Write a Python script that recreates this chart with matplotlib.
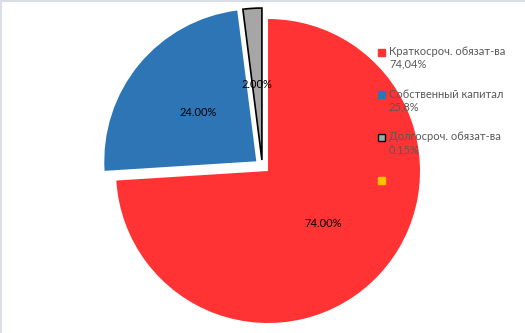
import matplotlib.pyplot as plt
from matplotlib.patches import Rectangle

plt.rcParams['font.family'] = ['Lato', 'DejaVu Sans']

# values shown on the slices and in the legend
slice_values = [74, 24, 2]
legend_labels = ['Краткосроч. обязат-ва\n74,04%', 'Собственный капитал\n25,8%',
                 'Долгосроч. обязат-ва\n0,15%', '']
colors = ['#FF3333', '#2E75B6', '#A6A6A6']
legend_colors = ['#FF3333', '#2E75B6', '#A6A6A6', '#FFC000']
explode = [0, 0.1, 0.0]

W, H = 525, 333
cx, cy, r = 268, 162, 152  # pie centre (px from left/bottom), radius in px

fig = plt.figure(figsize=(W / 100, H / 100), dpi=100)
ax = fig.add_axes([0, 0, 1, 1])

wedges, texts, autotexts = ax.pie(
    slice_values, colors=colors, explode=explode, startangle=90,
    counterclock=False, autopct='%.2f%%', pctdistance=0.5,
    textprops=dict(fontsize=8, color='black'))
wedges[2].set_edgecolor('black')
wedges[2].set_linewidth(1.2)

# the small slice is pulled out up and to the left, like in the source chart
shift = (-0.04, 0.072)
wedges[2].set_center(shift)
tx, ty = autotexts[2].get_position()
autotexts[2].set_position((tx + shift[0], ty + shift[1]))

# pie() sets its own limits, so set them afterwards
ax.set_xlim(-cx / r, (W - cx) / r)
ax.set_ylim(-cy / r, (H - cy) / r)
ax.set_aspect('equal')
ax.axis('off')

# thin border of the chart area on the top and left edges
fig.add_artist(plt.Line2D([0, 1], [1 - 0.7 / H, 1 - 0.7 / H], color='#D9DDE6', lw=1.5))
fig.add_artist(plt.Line2D([0.7 / W, 0.7 / W], [0, 1], color='#D9DDE6', lw=1.5))

# legend drawn by hand: marker next to the first line of each label
sq = 7
for i, (lab, c) in enumerate(zip(legend_labels, legend_colors)):
    y = 52 + i * 42.7  # marker centre, px from top
    ec = 'black' if i == 2 else c
    fig.add_artist(Rectangle((378 / W, 1 - (y + sq / 2) / H), sq / W, sq / H,
                             facecolor=c, edgecolor=ec, lw=1,
                             transform=fig.transFigure))
    if lab:
        fig.text(389 / W, 1 - (y - 6) / H, lab, fontsize=8, color='#595959',
                 va='top', ha='left', linespacing=1.2)

fig.savefig('out.png', dpi=100)
